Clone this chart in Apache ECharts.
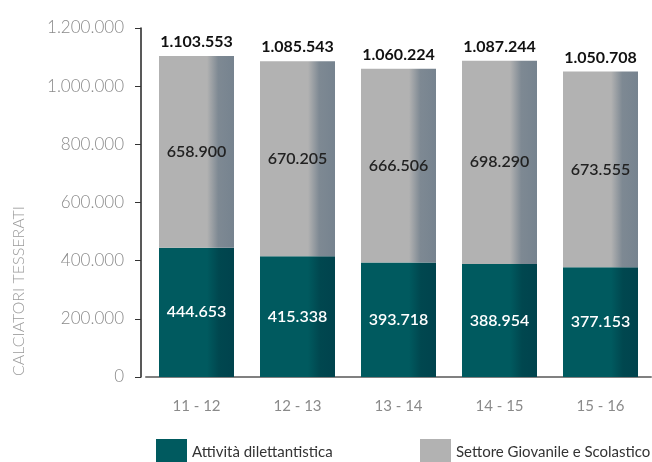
<!DOCTYPE html>
<html>
<head>
<meta charset="utf-8">
<script src="https://cdn.jsdelivr.net/npm/echarts@6/dist/echarts.min.js"></script>
<style>
  html, body { margin: 0; padding: 0; background: #fff; }
  #chart { width: 652px; height: 462px; }
</style>
</head>
<body>
<div id="chart"></div>
<script>
// stagioni
const seasons = ['11 - 12', '12 - 13', '13 - 14', '14 - 15', '15 - 16'];
// calciatori tesserati per settore
const dilettanti = [444653, 415338, 393718, 388954, 377153];
const giovanile = [658900, 670205, 666506, 698290, 673555];
const totali = [1103553, 1085543, 1060224, 1087244, 1050708];
const yTicks = [0, 200000, 400000, 600000, 800000, 1000000, 1200000];

const fmt = v => v.toLocaleString('de-DE');  // separatore migliaia "."
const FONT = 'Lato';

const chart = echarts.init(document.getElementById('chart'));

chart.setOption({
  animation: false,
  textStyle: { fontFamily: FONT },
  grid: { left: 146, right: 1, top: 28, bottom: 85 },
  legend: [
    {
      left: 151, top: 434,
      itemWidth: 31, itemHeight: 27,
      icon: 'rect',
      data: [{ name: 'Attività dilettantistica', itemStyle: { color: '#005a5f' } }],
      textStyle: { color: '#333', fontSize: 15, fontFamily: FONT }
    },
    {
      left: 415, top: 434,
      itemWidth: 31, itemHeight: 27,
      icon: 'rect',
      data: [{ name: 'Settore Giovanile e Scolastico', itemStyle: { color: '#b2b2b2' } }],
      textStyle: { color: '#333', fontSize: 15, fontFamily: FONT }
    }
  ],
  graphic: [{
    type: 'text',
    x: 19, y: 291,
    rotation: Math.PI / 2,
    style: {
      text: 'CALCIATORI TESSERATI',
      fill: '#9a9a9a',
      fontSize: 16,
      fontWeight: 300,
      fontFamily: FONT,
      align: 'center',
      verticalAlign: 'middle'
    }
  }],
  xAxis: {
    type: 'category',
    data: seasons,
    axisLine: { lineStyle: { color: '#808080', width: 2 } },
    axisTick: { show: false },
    axisLabel: { color: '#8a8a8a', fontSize: 15, margin: 22 }
  },
  yAxis: {
    type: 'value',
    min: 0,
    max: yTicks[yTicks.length - 1],
    interval: yTicks[1] - yTicks[0],
    offset: 5,
    axisLine: { show: true, lineStyle: { color: '#222', width: 1.5 } },
    axisTick: { show: true, length: 6, lineStyle: { color: '#333' } },
    splitLine: { show: false },
    axisLabel: { color: '#8a8a8a', fontSize: 17, fontWeight: 300, margin: 17, formatter: v => fmt(v) }
  },
  series: [
    {
      name: 'Attività dilettantistica',
      type: 'bar',
      stack: 'tot',
      barWidth: 75,
      data: dilettanti,
      itemStyle: {
        color: {
          type: 'linear', x: 0, y: 0, x2: 1, y2: 0,
          colorStops: [
            { offset: 0, color: '#005a5f' },
            { offset: 0.64, color: '#005a5f' },
            { offset: 0.8, color: '#00474f' },
            { offset: 1, color: '#00434d' }
          ]
        }
      },
      label: {
        show: true, position: 'inside',
        color: '#fff', fontSize: 16, fontWeight: 600,
        formatter: p => fmt(p.value)
      }
    },
    {
      name: 'Settore Giovanile e Scolastico',
      type: 'bar',
      stack: 'tot',
      barWidth: 75,
      data: giovanile,
      itemStyle: {
        color: {
          type: 'linear', x: 0, y: 0, x2: 1, y2: 0,
          colorStops: [
            { offset: 0, color: '#b2b2b2' },
            { offset: 0.64, color: '#b2b2b2' },
            { offset: 0.79, color: '#7e8993' },
            { offset: 1, color: '#76838f' }
          ]
        }
      },
      label: {
        show: true, position: 'inside',
        color: '#222', fontSize: 16, fontWeight: 600,
        formatter: p => fmt(p.value)
      }
    },
    {
      // etichette del totale sopra ogni barra
      name: 'Totale',
      type: 'bar',
      stack: 'tot',
      barWidth: 75,
      data: totali.map(() => 0),
      itemStyle: { color: 'transparent' },
      label: {
        show: true, position: 'top', distance: 6,
        color: '#111', fontSize: 16, fontWeight: 'bold',
        formatter: p => fmt(totali[p.dataIndex])
      }
    }
  ]
});
</script>
</body>
</html>
